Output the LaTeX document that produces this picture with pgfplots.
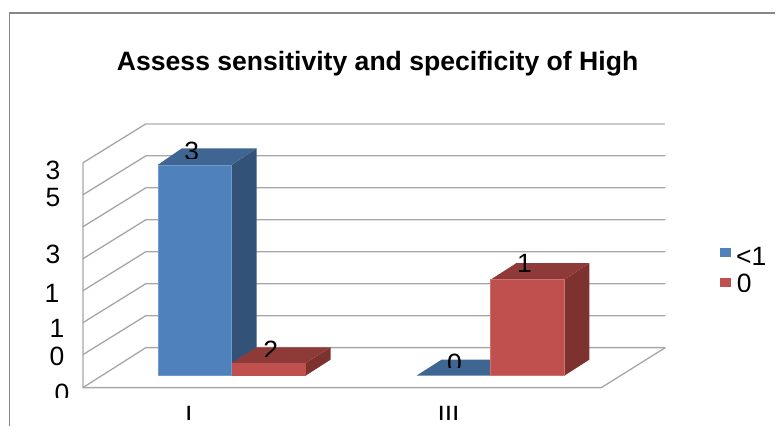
\documentclass[border=0pt]{standalone}
\usepackage{fontspec}
\setmainfont{Liberation Sans}
\usepackage{pgfplots}
\pgfplotsset{compat=1.18}

\definecolor{blueF}{HTML}{4F81BD}
\definecolor{blueT}{HTML}{3F6592}
\definecolor{blueS}{HTML}{335278}
\definecolor{redF}{HTML}{C0504D}
\definecolor{redT}{HTML}{8E3A38}
\definecolor{redS}{HTML}{7D3230}
\definecolor{gridc}{HTML}{A6A6A6}
\definecolor{framec}{HTML}{868686}

% x, baseline, cut-off y, text
\newcommand{\lab}[4]{%
  \begin{scope}
    \clip (0,0) rectangle (776,#3);
    \node[anchor=base,inner sep=0pt,font=\fontsize{26.5bp}{26.5bp}\selectfont] at (#1,#2) {#4};
  \end{scope}}

\begin{document}
\begin{tikzpicture}
\begin{axis}[
  width=776bp, height=426bp, scale only axis,
  xmin=0, xmax=776, ymin=0, ymax=426,
  y dir=reverse, hide axis, clip=false,
  grid line/.style={draw=gridc,line width=1.3bp},
]
\path (0,0) rectangle (776,426);

% chart frame
\addplot[draw=framec,line width=1.6bp] coordinates {(9.5,426) (9.5,13) (776,13)};

% walls: back grid lines and left side
\addplot[draw=gridc!60,line width=1.3bp] coordinates {(146,124) (666,124)};
\addplot[grid line] coordinates {(83,163) (146,124)};
\addplot[grid line] coordinates {(83,195) (146,156) (666,156)};
\addplot[grid line] coordinates {(83,227) (146,188) (666,188)};
\addplot[grid line] coordinates {(83,259) (146,220) (666,220)};
\addplot[grid line] coordinates {(83,291) (146,252) (666,252)};
\addplot[grid line] coordinates {(83,323) (146,284) (666,284)};
\addplot[grid line] coordinates {(83,355) (146,316) (666,316)};
\addplot[grid line] coordinates {(83,388) (146,348) (666,348)};
\addplot[grid line] coordinates {(83,163) (83,388) (602,388) (666,348)};

% I, <1
\addplot[fill=blueS,draw=none] coordinates {(232,165) (257,148.5) (257,360) (232,376)} --cycle;
\addplot[fill=blueT,draw=none] coordinates {(158,165) (182,148.5) (257,148.5) (232,165)} --cycle;
\addplot[fill=blueF,draw=blueF!80!white,line width=0.6bp] coordinates {(158,165) (232,165) (232,376) (158,376)} --cycle;
% I, 0
\addplot[fill=redS,draw=none] coordinates {(306,363.3) (331,347.7) (331,360) (306,376)} --cycle;
\addplot[fill=redT,draw=none] coordinates {(232,363.3) (257,347.7) (331,347.7) (306,363.3)} --cycle;
\addplot[fill=redF,draw=none] coordinates {(232,363.3) (306,363.3) (306,376) (232,376)} --cycle;
% III, <1
\addplot[fill=blueT,draw=none] coordinates {(417,376) (442,360) (516,360) (491,376)} --cycle;
% III, 0
\addplot[fill=redS,draw=none] coordinates {(565,280) (590,263.3) (590,360) (565,376)} --cycle;
\addplot[fill=redT,draw=none] coordinates {(491,280) (517,263.3) (590,263.3) (565,280)} --cycle;
\addplot[fill=redF,draw=redF!80!white,line width=0.6bp] coordinates {(491,280) (565,280) (565,376) (491,376)} --cycle;

% legend keys
\addplot[fill=blueF,draw=none] coordinates {(721,248) (732,248) (732,257) (721,257)} --cycle;
\addplot[fill=redF,draw=none] coordinates {(721,278) (732,278) (732,287) (721,287)} --cycle;

% title
\node[anchor=base,inner sep=0pt,font=\fontsize{26.6bp}{26.6bp}\selectfont\bfseries] at (378,71) {Assess sensitivity and specificity of High};

% value axis labels
\lab{53}{180}{426}{3}
\lab{53}{207}{426}{5}
\lab{53}{264}{426}{3}
\lab{52}{303}{426}{1}
\lab{57}{338}{426}{1}
\lab{57}{366}{426}{0}
\lab{62}{403}{397.7}{0}

% category labels
\lab{189}{425}{419.5}{I}
\lab{449}{425}{419.5}{III}

% data labels
\lab{192}{161}{158.3}{3}
\lab{271}{360}{356.7}{2}
\lab{455}{373}{368}{0}
\lab{525}{273}{426}{1}

% legend text
\lab{752}{266}{426}{<1}
\lab{745}{293}{291.7}{0}
\end{axis}
\end{tikzpicture}
\end{document}
